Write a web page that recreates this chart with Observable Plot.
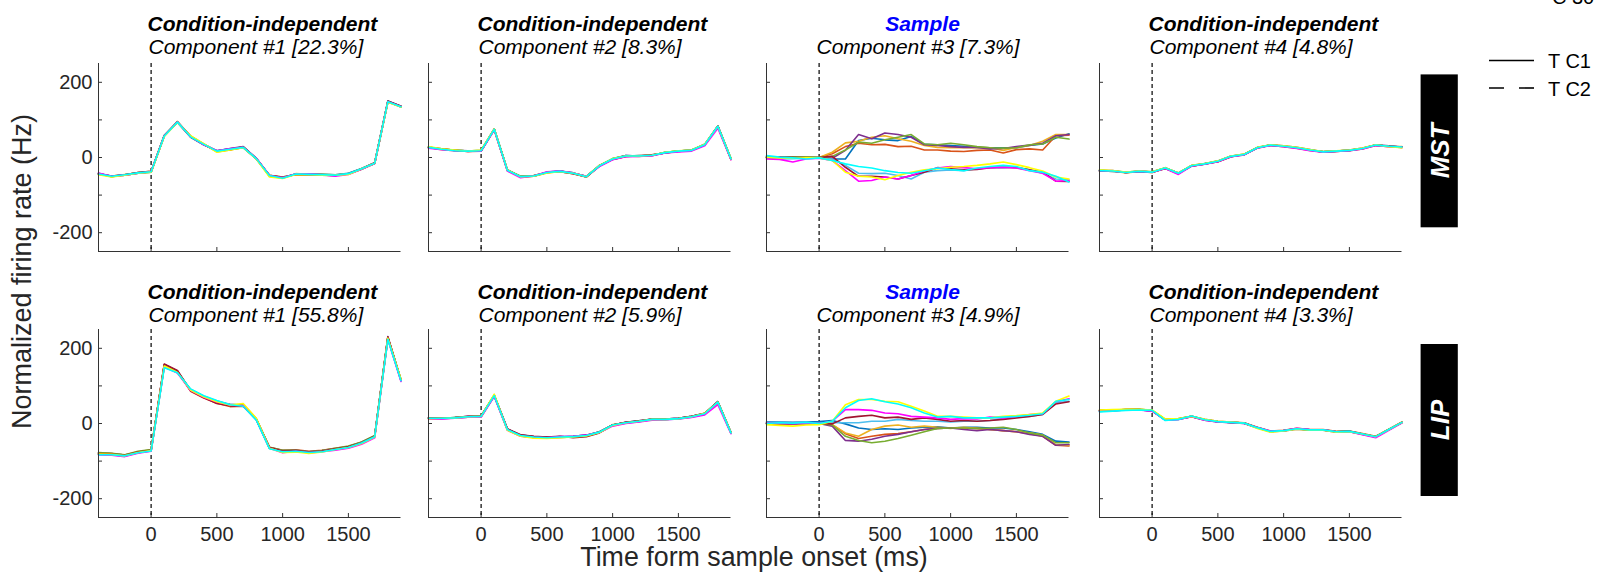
<!DOCTYPE html>
<html><head><meta charset="utf-8">
<script src="https://cdn.jsdelivr.net/npm/d3@7"></script>
<script src="https://cdn.jsdelivr.net/npm/@observablehq/plot@0.6"></script>
<style>
body{margin:0;background:#fff;font-family:"Liberation Sans",Arial,sans-serif;}
#root{position:relative;width:1620px;height:573px;overflow:hidden;background:#fff;}
#root > svg{position:absolute;}
</style></head><body><div id="root"></div>
<script>
// ---------------- DATA ----------------
const times = [-400,-300,-200,-100,0,100,200,300,400,500,600,700,800,900,1000,1100,1200,1300,1400,1500,1600,1700,1800,1900];
const conditions = ["c1","c2","c3","c4","c5","c6","c7","c8","c9","c10"];
const colors = ["#0072BD","#D95319","#EDB120","#7E2F8E","#77AC30","#4DBEEE","#A2142F","#FF00FF","#FFFF00","#00FFFF"];
const xTicks = [0,500,1000,1500];
const yTicks = [-200,-100,0,100,200];
const yTickLabels = [-200,0,200];
const areas = ["MST","LIP"];
const headings = [
  ["Condition-independent","Condition-independent","Sample","Condition-independent"],
  ["Condition-independent","Condition-independent","Sample","Condition-independent"]
];
const subtitles = [
  ["Component #1 [22.3%]","Component #2 [8.3%]","Component #3 [7.3%]","Component #4 [4.8%]"],
  ["Component #1 [55.8%]","Component #2 [5.9%]","Component #3 [4.9%]","Component #4 [3.3%]"]
];
const legendLabels = ["T C1","T C2"];

const mstC1 = [
 [-44,-50,-47,-42,-39,57,95,55,34,18,23,28,-2,-49,-54,-44,-44,-45,-46,-42,-29,-14,150,136],
 [-42,-51,-46,-40,-37,59,93,57,36,16,21,26,-4,-47,-52,-45,-46,-47,-48,-44,-31,-16,148,134],
 [-45,-49,-45,-41,-38,58,96,56,35,15,20,27,-3,-50,-55,-43,-45,-46,-47,-43,-30,-15,147,135],
 [-43,-50,-47,-42,-38,57,94,54,34,18,24,29,-2,-48,-53,-44,-44,-46,-47,-43,-30,-16,149,136],
 [-44,-51,-46,-41,-39,58,93,55,35,17,22,27,-3,-48,-52,-45,-45,-45,-46,-44,-31,-15,148,135],
 [-42,-50,-46,-41,-38,59,95,56,36,17,22,26,-4,-49,-53,-44,-45,-46,-47,-43,-30,-15,149,134],
 [-43,-49,-46,-40,-37,58,95,57,35,17,21,28,-3,-47,-53,-45,-46,-47,-48,-44,-30,-14,150,136],
 [-41,-50,-47,-42,-38,57,94,56,34,18,23,27,-2,-48,-54,-44,-44,-46,-50,-45,-31,-16,148,135],
 [-46,-52,-47,-42,-39,56,93,58,37,14,20,26,-4,-52,-56,-45,-46,-47,-47,-45,-30,-15,147,134],
 [-44,-50,-46,-41,-38,57,94,55,35,17,22,27,-3,-48,-55,-44,-45,-46,-47,-43,-30,-15,148,135]
];
const mstC2 = [
 [28,22,20,17,19,76,-33,-50,-49,-39,-36,-41,-50,-21,-3,5,4,6,14,17,20,35,84,-3],
 [26,23,19,16,18,74,-35,-52,-48,-40,-38,-43,-51,-23,-5,3,5,7,12,16,19,33,82,-5],
 [27,21,18,17,17,75,-34,-51,-50,-41,-37,-42,-52,-22,-4,4,3,6,13,18,18,34,83,-4],
 [28,22,19,18,18,76,-33,-51,-49,-40,-36,-42,-51,-21,-4,5,4,5,13,17,19,35,84,-4],
 [27,22,20,17,18,74,-34,-50,-48,-40,-37,-41,-50,-22,-3,4,4,6,14,17,20,34,82,-3],
 [26,22,19,17,18,75,-35,-51,-49,-39,-37,-42,-51,-23,-4,4,5,6,13,16,19,34,83,-4],
 [27,23,19,16,17,75,-34,-52,-50,-40,-38,-43,-52,-22,-5,3,4,7,12,17,19,33,83,-5],
 [25,21,18,18,17,73,-36,-54,-49,-38,-36,-41,-50,-24,-6,2,3,5,12,15,17,31,78,-6],
 [29,23,20,17,20,76,-33,-51,-50,-41,-38,-42,-51,-21,-3,4,4,6,14,18,20,35,83,-3],
 [27,22,18,17,18,75,-34,-51,-49,-40,-37,-42,-51,-22,-4,4,4,6,13,17,19,34,83,-4]
];
const mstC3 = [
 [2,1,0,1,0,-4,-4,45,51,47,45,56,35,34,32,30,27,26,26,26,32,36,52,63],
 [1,2,1,0,0,10,29,38,34,35,29,30,20,20,17,16,19,20,12,21,23,20,58,59],
 [0,1,2,1,0,14,39,43,54,58,50,43,32,27,26,26,27,26,19,27,32,43,61,61],
 [1,0,1,0,0,-2,19,61,50,65,61,54,34,32,29,27,27,23,24,29,33,38,58,61],
 [0,0,1,1,0,3,20,41,38,47,54,61,36,34,38,34,29,26,25,26,34,36,54,49],
 [-2,-4,-3,-2,-1,-4,-21,-42,-43,-42,-48,-57,-39,-35,-33,-35,-30,-27,-27,-26,-33,-42,-57,-59],
 [0,1,0,-1,0,3,-26,-50,-50,-52,-57,-48,-39,-27,-30,-33,-32,-27,-26,-27,-33,-39,-63,-64],
 [-4,-5,-12,-4,-2,-8,-35,-63,-61,-52,-57,-48,-35,-28,-24,-27,-30,-27,-26,-28,-35,-42,-63,-61],
 [1,-1,-2,-1,-1,-8,-39,-50,-52,-59,-48,-39,-33,-30,-26,-24,-21,-17,-12,-19,-27,-36,-52,-57],
 [5,1,-1,-4,-1,-8,-17,-24,-28,-35,-40,-42,-35,-28,-32,-35,-28,-24,-21,-24,-35,-39,-50,-65]
];
const mstC4 = [
 [-34,-36,-39,-37,-38,-28,-41,-22,-16,-10,3,9,27,33,30,26,20,16,17,19,24,33,30,28],
 [-35,-37,-40,-38,-39,-29,-42,-23,-17,-11,2,8,26,32,29,25,19,15,16,18,23,32,29,27],
 [-36,-36,-41,-37,-40,-28,-43,-22,-17,-10,3,8,25,33,30,26,20,15,17,19,24,33,30,29],
 [-35,-35,-40,-36,-39,-27,-42,-21,-17,-9,4,8,26,34,31,27,21,15,17,20,25,34,31,28],
 [-34,-36,-40,-37,-38,-28,-41,-22,-18,-10,3,7,26,33,30,26,20,14,16,19,24,33,30,27],
 [-35,-37,-39,-37,-39,-28,-42,-22,-17,-10,3,8,26,33,30,26,20,15,17,19,24,33,30,28],
 [-36,-36,-40,-38,-40,-29,-43,-23,-17,-11,2,8,26,33,30,26,20,15,17,19,24,33,30,28],
 [-35,-36,-40,-37,-39,-29,-45,-23,-18,-11,2,7,25,32,29,24,18,14,16,18,23,32,29,27],
 [-33,-35,-39,-36,-38,-27,-41,-21,-16,-9,4,9,27,34,31,27,21,16,18,20,25,34,29,26],
 [-35,-36,-40,-37,-39,-28,-42,-22,-17,-10,3,8,26,33,30,26,20,15,17,19,24,33,30,28]
];
const lipC1 = [
 [-82,-82,-86,-77,-72,152,136,90,72,59,50,47,10,-66,-74,-73,-76,-74,-68,-63,-52,-35,226,116],
 [-79,-80,-84,-75,-70,156,139,86,68,54,45,46,12,-63,-71,-70,-74,-71,-66,-61,-50,-33,230,114],
 [-81,-83,-86,-78,-72,153,138,88,71,57,48,52,13,-64,-76,-74,-77,-72,-69,-63,-52,-35,229,117],
 [-78,-80,-84,-76,-71,157,140,88,70,56,51,49,12,-64,-72,-71,-75,-72,-67,-61,-50,-33,231,116],
 [-77,-79,-83,-74,-69,155,138,90,72,59,50,48,11,-63,-71,-71,-75,-72,-66,-60,-49,-32,228,115],
 [-82,-83,-87,-78,-73,150,135,91,73,60,51,47,10,-66,-74,-73,-77,-74,-68,-63,-52,-35,225,114],
 [-80,-81,-85,-76,-71,158,141,87,69,53,47,46,11,-64,-73,-72,-76,-73,-67,-62,-51,-34,230,116],
 [-83,-84,-88,-79,-74,151,134,88,70,57,49,48,10,-66,-78,-74,-78,-75,-71,-66,-55,-38,224,112],
 [-81,-82,-86,-77,-72,153,136,89,71,58,49,53,14,-66,-77,-76,-80,-76,-69,-64,-53,-36,227,118],
 [-83,-83,-86,-78,-73,148,135,92,74,61,50,46,9,-67,-75,-74,-77,-75,-69,-64,-52,-35,224,114]
];
const lipC2 = [
 [15,14,16,18,20,75,-15,-31,-35,-37,-35,-34,-31,-22,-4,3,7,11,12,14,19,27,58,-24],
 [13,13,15,17,18,73,-17,-33,-37,-39,-37,-36,-33,-24,-5,2,6,10,11,13,18,26,56,-26],
 [14,15,14,18,19,74,-16,-32,-36,-38,-36,-35,-32,-23,-3,2,5,11,11,13,18,27,57,-25],
 [15,14,15,19,19,75,-15,-31,-35,-37,-36,-34,-31,-22,-4,3,6,12,12,14,19,26,58,-24],
 [14,14,16,18,20,74,-16,-32,-36,-38,-36,-35,-32,-23,-4,2,6,11,11,13,18,26,57,-25],
 [13,13,15,17,18,73,-17,-33,-37,-38,-37,-36,-33,-24,-5,1,5,10,10,12,17,25,56,-26],
 [15,15,16,19,20,75,-14,-30,-34,-36,-34,-38,-35,-25,-4,3,7,12,12,14,19,27,58,-24],
 [12,12,14,17,17,72,-18,-34,-37,-38,-35,-34,-31,-24,-7,0,4,9,10,12,16,23,50,-27],
 [13,14,15,18,19,78,-18,-34,-39,-40,-38,-36,-33,-24,-5,2,6,11,11,13,18,27,57,-24],
 [14,14,15,18,19,74,-16,-32,-36,-38,-36,-35,-32,-23,-4,2,6,11,11,13,18,26,57,-25]
];
const lipC3 = [
 [4,4,3,4,5,8,-1,-12,-16,-14,-16,-12,-10,-9,-12,-10,-10,-12,-12,-16,-22,-29,-47,-49],
 [0,-1,0,1,0,-3,-27,-40,-34,-29,-27,-22,-16,-13,-12,-12,-13,-16,-19,-22,-27,-34,-58,-60],
 [1,0,1,0,0,-3,-25,-34,-16,-7,-4,-10,-7,-10,-13,-10,-13,-16,-19,-22,-25,-31,-56,-58],
 [0,0,-1,0,0,-7,-45,-47,-42,-34,-29,-22,-16,-13,-12,-16,-19,-16,-19,-22,-29,-34,-58,-56],
 [1,2,1,0,0,-4,-34,-45,-51,-47,-40,-31,-22,-13,-12,-12,-13,-12,-10,-16,-25,-31,-51,-51],
 [2,3,2,3,1,2,2,2,6,6,11,8,6,6,4,6,6,8,13,17,19,24,55,59],
 [0,-1,0,0,0,-1,15,19,22,15,17,11,15,11,6,8,6,8,11,15,19,24,52,58],
 [1,0,0,1,0,6,37,37,35,28,26,19,17,15,11,13,12,17,15,19,24,26,58,66],
 [-3,-5,-7,-4,-3,6,50,64,64,59,58,46,33,19,19,17,15,15,19,21,24,28,59,73],
 [0,2,1,3,0,6,42,61,66,58,52,42,28,17,19,15,15,15,17,19,22,26,59,64]
];
const lipC4 = [
 [33,35,36,37,33,10,12,18,10,5,3,1,-11,-21,-19,-14,-17,-17,-22,-21,-28,-35,-16,3],
 [35,36,37,38,35,11,13,19,11,6,4,2,-10,-20,-18,-13,-16,-16,-21,-20,-27,-34,-15,4],
 [34,35,37,37,34,10,12,19,10,5,3,1,-11,-21,-19,-14,-17,-17,-22,-21,-28,-35,-16,3],
 [34,34,36,36,34,9,11,18,9,4,2,0,-12,-22,-20,-15,-18,-18,-23,-22,-29,-36,-17,2],
 [35,35,37,38,35,11,12,19,10,5,3,1,-11,-21,-19,-14,-17,-17,-22,-21,-28,-35,-16,3],
 [32,34,36,37,35,9,11,20,10,5,3,1,-11,-21,-19,-14,-17,-17,-22,-21,-28,-35,-16,3],
 [34,35,37,37,34,10,12,19,10,5,3,1,-11,-21,-19,-14,-17,-17,-22,-21,-28,-35,-16,3],
 [33,34,36,36,33,9,11,18,9,4,3,0,-11,-20,-19,-13,-16,-17,-22,-22,-30,-38,-18,2],
 [36,37,38,38,36,12,13,19,11,6,4,1,-13,-23,-20,-15,-18,-18,-23,-22,-28,-35,-16,3],
 [31,33,35,36,35,8,11,20,10,5,3,1,-11,-21,-19,-14,-17,-17,-22,-21,-28,-35,-16,3]
];
const panelData = [[mstC1,mstC2,mstC3,mstC4],[lipC1,lipC2,lipC3,lipC4]];

// ---------------- LAYOUT ----------------
const root = document.getElementById("root");
const FONT = "'Liberation Sans', Arial, Helvetica, sans-serif";
const colLeft = [97.7, 427.7, 766.4, 1099.2];
const rowTop = [62.7, 329.3];
const W = 302.5, H = 188;
const mL = 60, mR = 6, mT = 45, mB = 40;
const titleDy = [[-32.7, -9.4], [-30.3, -7.6]];
const AX = "#333333";

for (let r = 0; r < 2; r++) {
  for (let c = 0; c < 4; c++) {
    const rows = [];
    panelData[r][c].forEach((vals, i) => vals.forEach((v, j) => rows.push({t: times[j], v, cond: conditions[i]})));
    const isSample = headings[r][c] === "Sample";
    const marks = [
      Plot.tickX(xTicks, {x: d => d, insetTop: H - 4, stroke: AX, strokeWidth: 1}),
      Plot.tickY(yTicks, {y: d => d, insetRight: W - 4, stroke: AX, strokeWidth: 1}),
      Plot.ruleX([0], {stroke: "#000", strokeDasharray: "4,3", strokeWidth: 1.2}),
      Plot.line(rows, {x: "t", y: "v", z: "cond", stroke: "cond", strokeWidth: 1.6}),
      Plot.ruleY([-250], {stroke: AX, strokeWidth: 1}),
      Plot.ruleX([-400], {stroke: AX, strokeWidth: 1}),
      Plot.text([headings[r][c]], {text: d => d, frameAnchor: "top-left",
        dx: isSample ? 156 : 49, dy: titleDy[r][0], textAnchor: isSample ? "middle" : "start",
        lineAnchor: "bottom", fontWeight: "bold", fontStyle: "italic", fontSize: 21,
        fill: isSample ? "#0000FF" : "#000"}),
      Plot.text([subtitles[r][c]], {text: d => d, frameAnchor: "top-left",
        dx: 50, dy: titleDy[r][1], textAnchor: "start", lineAnchor: "bottom",
        fontStyle: "italic", fontSize: 21, fill: "#000"})
    ];
    if (c === 0) marks.push(Plot.axisY({ticks: yTickLabels, tickSize: 0, tickPadding: 6, label: null, tickFormat: d => String(d), fontSize: 20}));
    if (r === 1) marks.push(Plot.axisX({ticks: xTicks, tickSize: 0, tickPadding: 9, label: null, tickFormat: d => String(d), fontSize: 20}));
    const svg = Plot.plot({
      width: mL + W + mR, height: mT + H + mB,
      marginLeft: mL, marginRight: mR, marginTop: mT, marginBottom: mB,
      style: {fontFamily: FONT, fontSize: "20px", color: "#262626", background: "transparent", overflow: "visible"},
      x: {domain: [-400, 1900], axis: null},
      y: {domain: [-250, 250], axis: null},
      color: {domain: conditions, range: colors},
      marks
    });
    svg.style.position = "absolute";
    svg.style.left = (colLeft[c] - mL) + "px";
    svg.style.top = (rowTop[r] - mT) + "px";
    root.appendChild(svg);
  }
}

// overlay: axis labels, area boxes, legend
const ov = d3.select(root).append("svg")
  .attr("width", 1620).attr("height", 573)
  .style("left", "0px").style("top", "0px").style("pointer-events", "none")
  .style("font-family", FONT);

ov.append("text").attr("transform", "translate(31,271.5) rotate(-90)")
  .attr("text-anchor", "middle").attr("font-size", 27).attr("fill", "#262626")
  .text("Normalized firing rate (Hz)");
ov.append("text").attr("x", 754).attr("y", 566)
  .attr("text-anchor", "middle").attr("font-size", 26.8).attr("fill", "#262626")
  .text("Time form sample onset (ms)");

const boxes = [{y0: 74.4, y1: 227.3}, {y0: 344, y1: 496}];
areas.forEach((a, i) => {
  const b = boxes[i];
  ov.append("rect").attr("x", 1420.6).attr("y", b.y0).attr("width", 37.2).attr("height", b.y1 - b.y0).attr("fill", "#000");
  ov.append("text").attr("transform", `translate(1439.5,${(b.y0 + b.y1) / 2}) rotate(-90)`)
    .attr("text-anchor", "middle").attr("dominant-baseline", "central")
    .attr("font-size", 26).attr("font-weight", "bold").attr("font-style", "italic").attr("fill", "#fff")
    .text(a);
});

const legY = [60.5, 88];
legendLabels.forEach((l, i) => {
  ov.append("line").attr("x1", 1489).attr("x2", 1534).attr("y1", legY[i]).attr("y2", legY[i])
    .attr("stroke", "#000").attr("stroke-width", 1.6)
    .attr("stroke-dasharray", i === 1 ? "15,15" : null);
  ov.append("text").attr("x", 1548).attr("y", legY[i] + 7.5).attr("font-size", 20).attr("fill", "#000").text(l);
});
ov.append("text").attr("x", 1552).attr("y", 3.5).attr("font-size", 20).attr("fill", "#000").text("C 30");
</script></body></html>
